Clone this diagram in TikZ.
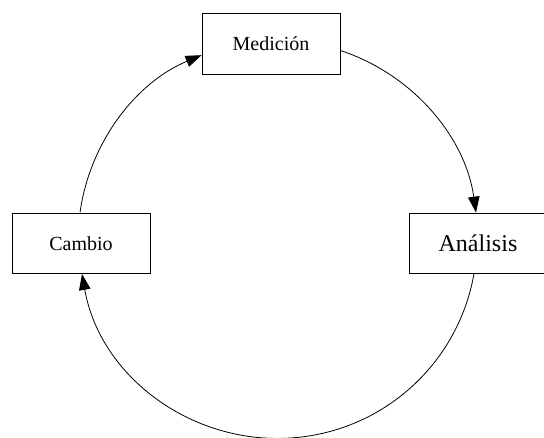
\documentclass[tikz,border=0pt]{standalone}
\usepackage{fontspec}
\setmainfont{Liberation Serif}
\usetikzlibrary{arrows.meta}
\pgfdeclarelayer{bg}
\pgfsetlayers{bg,main}
\begin{document}
\begin{tikzpicture}[x=1pt,y=-1pt,
  box/.style={draw=black, line width=0.8pt, fill=white, minimum width=138pt,
    minimum height=60.5pt, inner sep=0pt, font=\fontsize{20}{24}\selectfont},
  link/.style={line width=0.8pt, {Triangle[length=16pt,width=11.5pt]}-}]
\useasboundingbox (0,0) rectangle (544,438);
\node[box] (med) at (271,43.7) {Medición};
\node[box] (cam) at (81,243.3) {Cambio};
\node[box, font=\fontsize{24}{28}\selectfont] (ana) at (478,243.3) {Análisis};
\begin{pgfonlayer}{bg}
\draw[link] ([yshift=-11.5pt]med.west) arc[start angle=247.5, end angle=188, radius=200];
\draw[link] ([xshift=-2pt]ana.north) arc[start angle=352, end angle=287.6, radius=200];
\draw[link] ([xshift=1pt]cam.south) arc[start angle=170, end angle=9.3, radius=199];
\end{pgfonlayer}
\end{tikzpicture}
\end{document}
